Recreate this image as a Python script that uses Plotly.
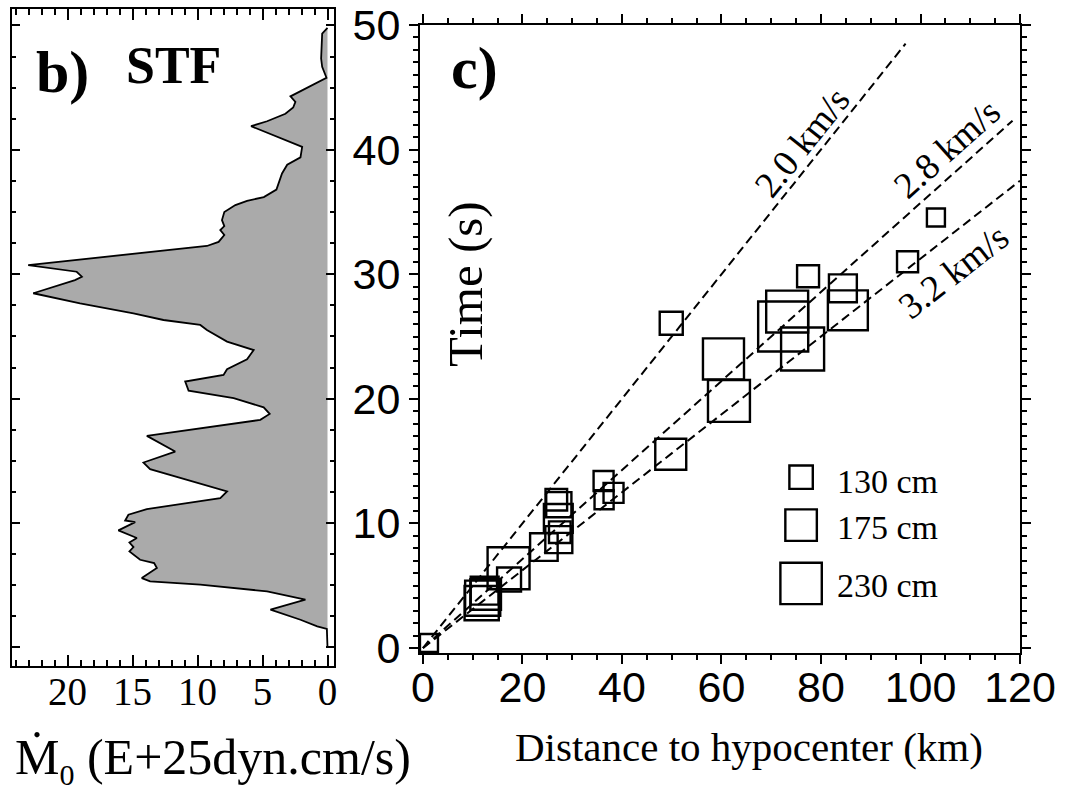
import math
import plotly.graph_objects as go

# ---------------- data ----------------
# Source time function (panel b): time (s) and moment rate (E+25 dyn.cm/s)
stf_time = [0.0, 0.2, 1.48, 1.69, 2.22, 3.03, 3.83, 4.5, 5.04, 5.3, 5.57, 6.38, 6.78, 7.04,
            7.71, 8.06, 8.43, 8.79, 9.4, 10.07, 10.2, 10.66, 11.12, 11.6, 12.0, 12.53, 13.15,
            14.33, 14.86, 15.74, 17.0, 18.29, 18.77, 19.3, 20.03, 20.64, 21.37, 21.9, 22.36,
            23.16, 23.9, 24.58, 25.52, 25.92, 26.32, 26.86, 27.66, 28.47, 29.53, 29.8, 30.2,
            30.74, 32.27, 32.6, 33.15, 33.55, 33.87, 34.35, 35.0, 35.56, 35.9, 36.2, 36.8,
            37.35, 38.1, 38.8, 39.4, 40.24, 41.9, 42.3, 42.9, 43.4, 43.86, 44.3, 45.8, 46.67,
            47.34, 49.35, 49.75, 49.8]
stf_rate = [0.0, 0.0, 0.05, 0.79, 2.08, 4.39, 1.7, 4.65, 9.79, 13.65, 14.29, 13.13, 13.34, 14.42,
            15.24, 14.93, 15.24, 14.67, 16.09, 14.8, 15.57, 15.32, 13.9, 10.82, 8.25, 7.73, 9.79,
            13.65, 14.16, 11.72, 13.9, 5.17, 4.45, 4.91, 7.22, 10.69, 10.95, 8.0, 7.73,
            6.19, 5.68, 7.73, 9.28, 9.79, 12.62, 14.93, 19.04, 22.64, 19.43, 18.9, 19.3,
            23.03, 9.28, 8.38, 7.94, 8.25, 7.94, 8.12, 7.94, 7.09, 6.19, 4.9, 3.93,
            3.75, 3.5, 3.1, 2.08, 1.95, 5.88, 4.65, 3.24, 2.64, 2.47, 2.85, 0.08, 0.41,
            0.49, 0.41, 0.1, 0.0]

# Panel c: slip patches, distance to hypocenter (km), time (s), slip (cm)
patch_dist = [1.2, 12.0, 12.4, 11.8, 12.6, 17.2, 17.3, 24.3, 26.8, 27.3, 27.2, 27.5, 27.3,
              36.3, 38.3, 36.4, 49.8, 49.9, 60.4, 61.5, 72.4, 73.2, 76.3, 77.4, 84.4, 85.4,
              97.4, 103.1]
patch_time = [0.4, 4.0, 4.6, 3.6, 4.3, 6.4, 5.5, 8.1, 11.9, 11.5, 10.4, 9.3, 8.7,
              13.4, 12.45, 11.9, 15.55, 26.06, 23.2, 19.83, 25.8, 27.0, 24.0, 29.84, 28.87, 27.1,
              31.0, 34.55]
patch_slip = [100, 195, 155, 190, 170, 233, 133, 153, 120, 140, 160, 120, 150,
              111, 111, 106, 172, 128, 228, 233, 278, 233, 239, 122, 155, 222,
              117, 100]

# Rupture velocities (km/s) and the distance where each reference line stops (km)
velocities = [2.0, 2.8, 3.2]
line_end_dist = [97.0, 118.5, 120.0]
vel_labels = ["2.0 km/s", "2.8 km/s", "3.2 km/s"]

legend_slips = [130, 175, 230]
legend_labels = ["130 cm", "175 cm", "230 cm"]

x_ticks_c = [0, 20, 40, 60, 80, 100, 120]
y_ticks_c = [0, 10, 20, 30, 40, 50]
x_ticks_b = [0, 5, 10, 15, 20]

# ---------------- style ----------------
W, H = 1066, 791
SERIF = "Liberation Serif, Times New Roman, DejaVu Serif, serif"
SANS = "Liberation Sans, Arial, Helvetica, sans-serif"
INK = "#000000"
SIZE_PER_CM = 0.18  # marker pixels per cm of slip


def px(x):
    return x / W


def py(y):
    return 1 - y / H


# plot-area rectangles (pixels)
L_X0, L_X1, L_Y0, L_Y1 = 11.7, 334.0, 9.3, 666.0
R_X0, R_X1, R_Y0, R_Y1 = 420.0, 1020.0, 25.0, 653.0
XR_C = [-0.6, 120]
YR_C = [-0.4, 50]

fig = go.Figure()

# STF filled curve
fig.add_trace(go.Scatter(
    x=stf_rate, y=stf_time, mode="lines", fill="tozerox",
    fillcolor="#aaaaaa", line=dict(color=INK, width=1.8),
    xaxis="x", yaxis="y", showlegend=False, hoverinfo="skip"))

# velocity lines
for v, dend in zip(velocities, line_end_dist):
    fig.add_trace(go.Scatter(
        x=[0, dend], y=[0, dend / v], mode="lines",
        line=dict(color=INK, width=2, dash="9px,5px"),
        xaxis="x2", yaxis="y2", showlegend=False, hoverinfo="skip"))

# slip patches
fig.add_trace(go.Scatter(
    x=patch_dist, y=patch_time, mode="markers",
    marker=dict(symbol="square-open", size=[s * SIZE_PER_CM for s in patch_slip],
                color=INK, opacity=1, line=dict(width=2.4, color=INK)),
    xaxis="x2", yaxis="y2", showlegend=False))

# legend squares
leg_x = 76.0
leg_y = [13.71, 9.86, 5.18]
fig.add_trace(go.Scatter(
    x=[leg_x] * 3, y=leg_y, mode="markers",
    marker=dict(symbol="square-open", size=[s * SIZE_PER_CM for s in legend_slips],
                color=INK, opacity=1, line=dict(width=2.4, color=INK)),
    xaxis="x2", yaxis="y2", showlegend=False, hoverinfo="skip"))

annotations = []
for lab, yy in zip(legend_labels, [13.33, 9.64, 5.04]):
    annotations.append(dict(x=82.8, y=yy, xref="x2", yref="y2", text=lab, showarrow=False,
                            xanchor="left", yanchor="middle",
                            font=dict(family=SERIF, size=34, color=INK)))

# velocity labels, rotated along the lines
px_per_km = (R_X1 - R_X0) / (XR_C[1] - XR_C[0])
px_per_s = (R_Y1 - R_Y0) / (YR_C[1] - YR_C[0])
lab_pos = [(76.1, 40.6), (105.3, 40.1), (106.6, 30.2)]
for v, lab, (lx, ly) in zip(velocities, vel_labels, lab_pos):
    ang = math.degrees(math.atan(px_per_s / (v * px_per_km)))
    annotations.append(dict(x=lx, y=ly, xref="x2", yref="y2", text=lab, showarrow=False,
                            textangle=-ang, xanchor="center", yanchor="middle",
                            font=dict(family=SERIF, size=37, color=INK)))

# panel titles and axis titles
annotations += [
    dict(x=px(34), y=py(72), xref="paper", yref="paper", text="<b>b)</b>", showarrow=False,
         xanchor="left", yanchor="middle", font=dict(family=SERIF, size=60, color=INK)),
    dict(x=px(124), y=py(66), xref="paper", yref="paper", text="<b>STF</b>", showarrow=False,
         xanchor="left", yanchor="middle", font=dict(family=SERIF, size=52, color=INK)),
    dict(x=px(449), y=py(68), xref="paper", yref="paper", text="<b>c)</b>", showarrow=False,
         xanchor="left", yanchor="middle", font=dict(family=SERIF, size=60, color=INK)),
    dict(x=px(465), y=py(284), xref="paper", yref="paper", text="Time (s)", showarrow=False,
         textangle=-90, xanchor="center", yanchor="middle",
         font=dict(family=SERIF, size=49, color=INK)),
    dict(x=px(749), y=py(747), xref="paper", yref="paper", text="Distance to hypocenter (km)",
         showarrow=False, xanchor="center", yanchor="middle",
         font=dict(family=SERIF, size=41, color=INK)),
    dict(x=px(13), y=py(760), xref="paper", yref="paper",
         text="Ṁ<sub><span style='font-size:30px'>0</span></sub> (E+25dyn.cm/s)",
         showarrow=False, xanchor="left", yanchor="middle",
         font=dict(family=SERIF, size=50, color=INK)),
]

axis_common = dict(showgrid=False, zeroline=False, showline=True, linecolor=INK,
                   linewidth=2, mirror="allticks", tickcolor=INK, tickwidth=2,
                   automargin=False)

fig.update_layout(
    width=W, height=H, margin=dict(l=0, r=0, t=0, b=0, pad=0, autoexpand=False),
    paper_bgcolor="white", plot_bgcolor="white", showlegend=False,
    annotations=annotations,
    xaxis=dict(domain=[px(L_X0), px(L_X1)], range=[24.3, -0.5], anchor="y",
               tickvals=x_ticks_b, ticks="inside", ticklen=11, ticklabelstandoff=-10,
               minor=dict(dtick=1, ticklen=6, ticks="inside", tickcolor=INK, tickwidth=1.5),
               tickfont=dict(family=SERIF, size=39, color=INK), **axis_common),
    yaxis=dict(domain=[py(L_Y1), py(L_Y0)], range=[-1.5, 51.3], anchor="x",
               dtick=10, ticks="inside", ticklen=8, showticklabels=False,
               minor=dict(dtick=2.5, ticklen=4, ticks="inside", tickcolor=INK, tickwidth=1.5),
               **axis_common),
    xaxis2=dict(domain=[px(R_X0), px(R_X1)], range=XR_C, anchor="y2",
                tickvals=x_ticks_c, ticks="outside", ticklen=9, ticklabelstandoff=-14,
                minor=dict(dtick=5, ticklen=5, ticks="outside", tickcolor=INK, tickwidth=1.5),
                tickfont=dict(family=SANS, size=43, color=INK), **axis_common),
    yaxis2=dict(domain=[py(R_Y1), py(R_Y0)], range=YR_C, anchor="x2",
                tickvals=y_ticks_c, ticks="outside", ticklen=9,
                minor=dict(dtick=1, ticklen=5, ticks="outside", tickcolor=INK, tickwidth=1.5),
                tickfont=dict(family=SANS, size=43, color=INK), **axis_common),
)

fig.write_html("out.html", config={"displayModeBar": False},
               post_script="document.body.style.margin='0px';")
